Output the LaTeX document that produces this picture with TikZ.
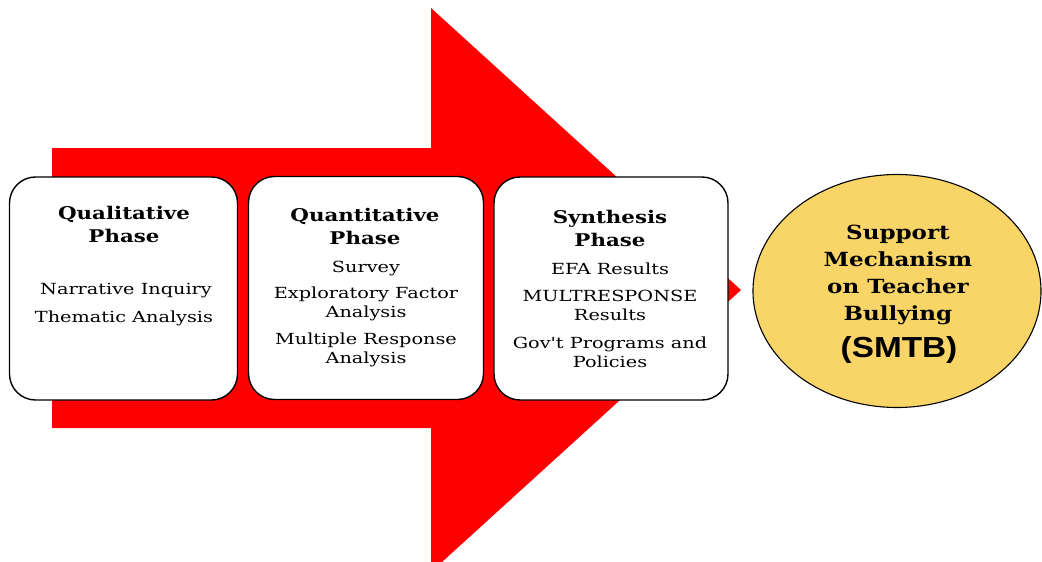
\documentclass[tikz,border=0pt]{standalone}
\usepackage{fontspec}
\setmainfont{DejaVu Serif}
\newfontfamily\bodyfont[FakeStretch=1.26]{DejaVu Serif}
\newfontfamily\titlefont[FakeStretch=1.22]{DejaVu Serif}
\newfontfamily\goalfont[FakeStretch=1.18]{DejaVu Serif}
\newfontfamily\smtbfont[FakeStretch=1.15]{Liberation Sans}
\usetikzlibrary{shapes.geometric}
\definecolor{arrowred}{HTML}{FF0000}
\definecolor{ellfill}{HTML}{F9D568}
\tikzset{
  phasebox/.style={draw=black, line width=1.4pt, fill=white, rounded corners=26pt, minimum width=#1, minimum height=223pt, inner sep=0pt},
  titletext/.style={font=\titlefont\bfseries\fontsize{17.5}{23}\selectfont, align=center, inner sep=0pt},
  bodytext/.style={font=\bodyfont\fontsize{15.3}{19}\selectfont, align=center, inner sep=0pt},
  goaltext/.style={font=\goalfont\bfseries\fontsize{19.5}{27}\selectfont, align=center, inner sep=0pt},
}
\begin{document}
\begin{tikzpicture}[x=1pt,y=-1pt]
\useasboundingbox (0,0) rectangle (1042,562);
\begin{scope}
\clip (0,0) rectangle (1042,562);
\fill[arrowred] (52,148) -- (431,148) -- (431,8) -- (741,290) -- (431,572) -- (431,428) -- (52,428) -- cycle;
\end{scope}
% boxes
\node[phasebox=228pt] (qual) at (123.5,288.5) {};
\node[phasebox=235pt] (quant) at (366,288) {};
\node[phasebox=234pt] (syn) at (611,288.5) {};
\node[ellipse, draw=black, line width=1.1pt, fill=ellfill, minimum width=288pt, minimum height=233pt, inner sep=0pt] (smtb) at (897,291) {};
% box 1
\node[titletext] (qualt) at (124,224) {Qualitative\\Phase};
\node[bodytext] (qual1) at (126,290.5) {Narrative Inquiry};
\node[bodytext] (qual2) at (124,318.5) {Thematic Analysis};
% box 2
\node[titletext] (quantt) at (365,226.5) {Quantitative\\Phase};
\node[bodytext] (quant1) at (366,268.5) {Survey};
\node[bodytext] (quant2) at (366,304) {Exploratory Factor\\Analysis};
\node[bodytext] (quant3) at (366,350) {Multiple Response\\Analysis};
% box 3
\node[titletext] (synt) at (610,228) {Synthesis\\Phase};
\node[bodytext] (syn1) at (610,268.5) {EFA Results};
\node[bodytext] (syn2) at (610,305.5) {MULTRESPONSE\\Results};
\node[bodytext] (syn3) at (610,352) {Gov't Programs and\\Policies};
% ellipse
\node[goaltext] (smtbt) at (898,274.5) {Support\\Mechanism\\on Teacher\\Bullying};
\node[font=\smtbfont\bfseries\fontsize{29}{32}\selectfont, inner sep=0pt] (smtbabbr) at (899,350) {(SMTB)};
\end{tikzpicture}
\end{document}
